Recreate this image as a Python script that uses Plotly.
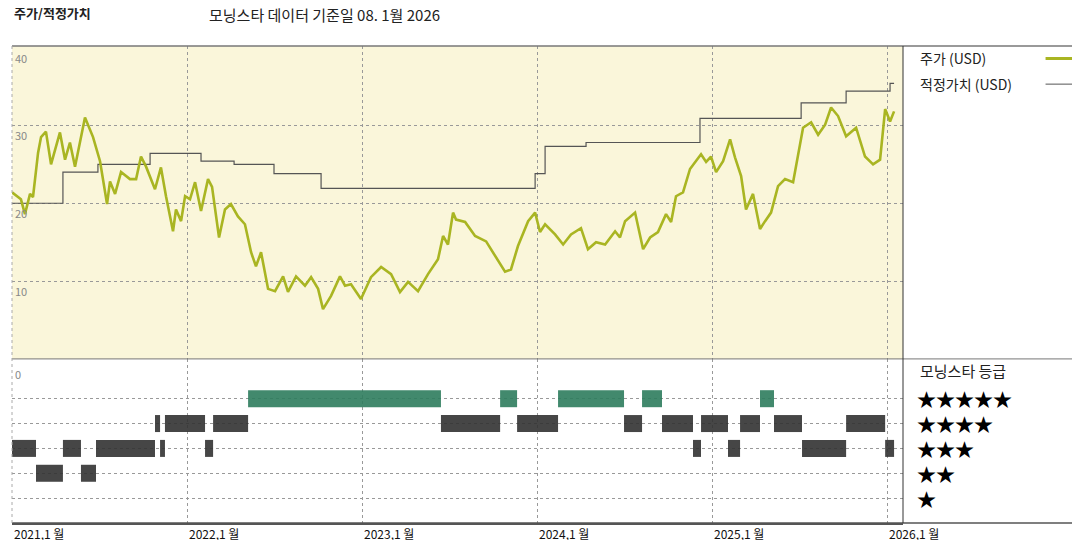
import plotly.graph_objects as go

price_t = [2021.0,2021.051,2021.074,2021.103,2021.12,2021.149,2021.166,2021.194,2021.223,2021.274,2021.303,2021.331,2021.36,2021.389,2021.417,2021.463,2021.503,2021.543,2021.56,2021.589,2021.623,2021.674,2021.709,2021.737,2021.766,2021.817,2021.851,2021.88,2021.92,2021.937,2021.966,2021.989,
2022.017,2022.046,2022.08,2022.12,2022.143,2022.183,2022.217,2022.251,2022.291,2022.331,2022.366,2022.394,2022.423,2022.463,2022.503,2022.549,2022.577,2022.623,2022.674,2022.709,2022.749,2022.777,2022.823,2022.874,2022.903,2022.937,2022.994,
2023.051,2023.109,2023.166,2023.217,2023.263,2023.32,2023.377,2023.434,2023.463,2023.491,2023.52,2023.537,2023.589,2023.646,2023.709,2023.76,2023.817,2023.851,2023.891,2023.949,2023.989,
2024.017,2024.046,2024.103,2024.149,2024.194,2024.251,2024.291,2024.337,2024.389,2024.446,2024.474,2024.503,2024.56,2024.606,2024.646,2024.691,2024.737,2024.766,2024.794,2024.834,2024.874,2024.937,2024.966,2024.994,
2025.023,2025.063,2025.103,2025.131,2025.166,2025.194,2025.234,2025.274,2025.303,2025.337,2025.377,2025.417,2025.463,2025.52,2025.566,2025.606,2025.646,2025.68,2025.72,2025.766,2025.823,2025.874,2025.92,2025.96,2025.989,2026.017,2026.04]
price = [21.4,20.5,18.6,21.2,20.8,26.5,28.5,29.2,25.0,29.1,25.6,27.8,24.7,27.8,31.0,28.5,25.4,19.9,22.8,21.2,24.0,23.1,23.1,26.0,24.7,21.8,24.6,20.9,16.4,19.2,17.7,20.9,
20.5,22.7,19.0,23.1,22.1,15.6,19.2,19.9,18.3,17.3,13.7,11.9,13.7,9.0,8.7,10.6,8.6,10.6,9.4,10.5,9.0,6.4,8.1,10.6,9.4,9.6,7.7,
10.5,11.8,10.9,8.6,9.9,8.7,10.9,12.8,15.8,14.7,18.8,17.9,17.6,15.8,15.1,13.2,11.2,11.5,14.5,17.7,18.8,
16.3,17.3,16.0,14.7,16.0,16.8,14.1,15.0,14.7,16.4,15.6,17.7,18.8,14.1,15.6,16.3,18.6,17.6,20.9,21.4,24.4,26.3,25.3,26.0,
24.0,25.4,28.2,25.9,23.5,19.2,21.2,16.7,17.7,18.8,22.2,23.1,22.7,29.7,30.4,28.8,30.1,32.3,31.2,28.6,29.7,26.0,25.0,25.6,32.1,30.5,31.8]

fair_t = [2021.0,2021.291,2021.491,2021.789,2022.08,2022.269,2022.497,2022.766,2023.989,2024.046,2024.28,2024.931,2025.509,2025.766,2026.017,2026.04]
fair = [20.0,24.0,25.0,26.4,25.4,25.0,23.8,21.9,23.8,27.3,27.8,30.9,32.9,34.4,35.4,35.4]

rating_start = [2021.0,2021.137,2021.291,2021.394,2021.48,2021.543,2021.817,2021.846,2021.874,2022.103,2022.149,2022.349,2023.451,2023.789,2023.886,2024.12,2024.497,2024.6,2024.714,2024.891,2024.937,2025.091,2025.16,2025.274,2025.354,2025.514,2025.766,2025.989]
rating_end   = [2021.137,2021.291,2021.394,2021.48,2021.817,2021.546,2021.846,2021.874,2022.103,2022.149,2022.349,2023.451,2023.789,2023.886,2024.12,2024.497,2024.6,2024.714,2024.891,2024.937,2025.091,2025.16,2025.274,2025.354,2025.514,2025.766,2025.989,2026.04]
rating       = [3,2,3,2,3,4,4,3,4,3,4,5,4,5,4,5,4,5,4,3,4,3,4,5,4,3,4,3]

years = [2021,2022,2023,2024,2025,2026]
year_labels = ["2021,1 월","2022,1 월","2023,1 월","2024,1 월","2025,1 월","2026,1 월"]
price_ticks = [40,30,20,10]
star_rows = [5,4,3,2,1]

FONT = "Noto Sans CJK KR"
fig = go.Figure()

fig.add_trace(go.Scatter(x=fair_t, y=fair, mode="lines", line=dict(color="#555555", width=1.2, shape="hv"),
                         xaxis="x", yaxis="y2", showlegend=False))
fig.add_trace(go.Scatter(x=price_t, y=price, mode="lines", line=dict(color="#A9B522", width=2.6),
                         xaxis="x", yaxis="y2", showlegend=False))

for lvl, col in [(5, "#2E7D5E"), (4, "#333333"), (3, "#333333"), (2, "#333333")]:
    xs, ys = [], []
    for s, e, r in zip(rating_start, rating_end, rating):
        if r == lvl:
            xs += [s, e, None]
            ys += [r, r, None]
    fig.add_trace(go.Scatter(x=xs, y=ys, mode="lines", line=dict(color=col, width=17),
                             opacity=0.9, xaxis="x", yaxis="y", showlegend=False, connectgaps=False))

grid = dict(showgrid=True, gridcolor="#999999", griddash="dot", gridwidth=1)
fig.update_layout(
    width=1080, height=540, margin=dict(l=4, r=185, t=38, b=25, autoexpand=False),
    paper_bgcolor="white", plot_bgcolor="white", font=dict(family=FONT, color="#222"),
    xaxis=dict(range=[2021.0, 2026.091], tickvals=years, showticklabels=False, zeroline=False, **grid,
               showline=True, linecolor="#555", linewidth=1.5),
    yaxis=dict(domain=[0, 0.344], range=[0, 6.6], tickvals=star_rows, showticklabels=False, zeroline=False, **grid),
    yaxis2=dict(domain=[0.344, 1], range=[0, 40.2], tickvals=[30, 20, 10], showticklabels=False, zeroline=False, **grid),
)
fig.update_layout(shapes=[
    dict(type="rect", xref="x domain", yref="y2 domain", x0=0, x1=1, y0=0, y1=1, fillcolor="#FAF6DA",
         line=dict(width=0), layer="below"),
    dict(type="line", xref="paper", yref="paper", x0=0, x1=1.2, y0=1, y1=1, line=dict(color="#777", width=1.5)),
    dict(type="line", xref="paper", yref="paper", x0=0, x1=1.2, y0=0.344, y1=0.344, line=dict(color="#777", width=1)),
    dict(type="line", xref="paper", yref="paper", x0=0, x1=1.2, y0=0, y1=0, line=dict(color="#555", width=1.5)),
    dict(type="line", xref="paper", yref="paper", x0=1, x1=1, y0=0, y1=1, line=dict(color="#333", width=1)),
    dict(type="line", xref="paper", yref="paper", x0=0, x1=0, y0=0, y1=1, line=dict(color="#aaa", width=1, dash="dot")),
    dict(type="line", xref="paper", yref="y2", x0=1.16, x1=1.2, y0=38.6, y1=38.6, line=dict(color="#A9B522", width=3)),
    dict(type="line", xref="paper", yref="y2", x0=1.16, x1=1.2, y0=35.3, y1=35.3, line=dict(color="#555", width=1)),
])
ann = []
ann.append(dict(text="<b>주가/적정가치</b>", xref="paper", yref="paper", x=0.0, y=1.07, xanchor="left", yanchor="middle",
                showarrow=False, font=dict(size=13, color="#222")))
ann.append(dict(text="모닝스타 데이터 기준일 08. 1월 2026", xref="paper", yref="paper", x=0.219, y=1.065, xanchor="left",
                yanchor="middle", showarrow=False, font=dict(size=15, color="#222")))
for v in price_ticks:
    ann.append(dict(text=str(v), x=2021.005, y=v, xref="x", yref="y2", xanchor="left", yanchor="top", showarrow=False,
                    font=dict(size=11, color="#888")))
ann.append(dict(text="0", x=2021.005, y=6.4, xref="x", yref="y", xanchor="left", yanchor="top", showarrow=False,
                font=dict(size=11, color="#888")))
for yv, lab in zip(years, year_labels):
    ann.append(dict(text=lab, x=yv, y=0, xref="x", yref="paper", xanchor="left", yanchor="top", yshift=0,
                    showarrow=False, font=dict(size=12, color="#111")))
ann.append(dict(text="주가 (USD)", xref="paper", yref="y2", x=1.017, y=38.6, xanchor="left", yanchor="middle",
                showarrow=False, font=dict(size=14, color="#222")))
ann.append(dict(text="적정가치 (USD)", xref="paper", yref="y2", x=1.017, y=35.3, xanchor="left", yanchor="middle",
                showarrow=False, font=dict(size=14, color="#222")))
ann.append(dict(text="모닝스타 등급", xref="paper", yref="y", x=1.017, y=6.15, xanchor="left", yanchor="middle",
                showarrow=False, font=dict(size=15, color="#222")))
for r in star_rows:
    ann.append(dict(text="★" * r, xref="paper", yref="y", x=1.014, y=r, xanchor="left", yanchor="middle",
                    showarrow=False, font=dict(size=19, color="#000")))
fig.update_layout(annotations=ann)
fig.write_html("out.html")
